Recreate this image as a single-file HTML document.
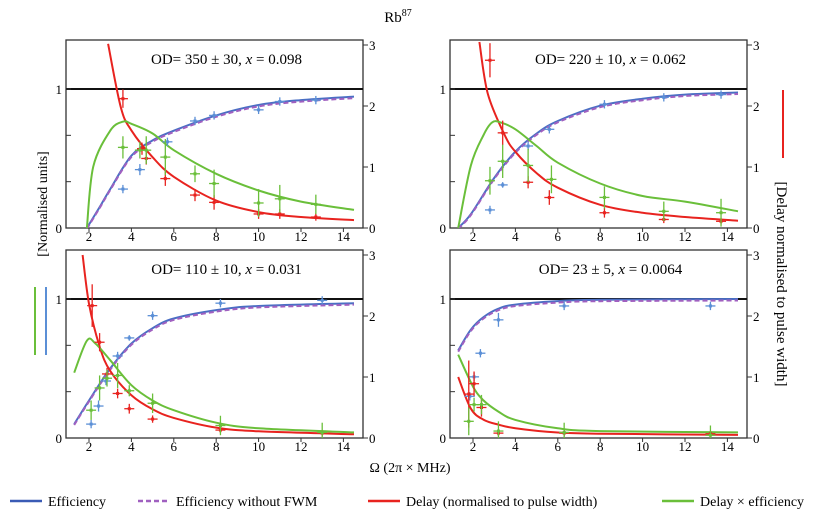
<!DOCTYPE html>
<html><head><meta charset="utf-8"><style>
body{margin:0;background:#fff;}
svg{display:block;font-family:"Liberation Serif",serif;}
</style></head><body>
<svg id="chart" width="831" height="531" viewBox="0 0 831 531" xmlns="http://www.w3.org/2000/svg">
<text x="398" y="22" font-size="15" text-anchor="middle">Rb<tspan dy="-6" font-size="10">87</tspan></text>
<text transform="translate(47,204) rotate(-90)" font-size="14" text-anchor="middle">[Normalised units]</text>
<line x1="35" y1="287" x2="35" y2="355" stroke="#6abf3a" stroke-width="2"/>
<line x1="46" y1="287" x2="46" y2="355" stroke="#5b8fd6" stroke-width="2"/>
<text transform="translate(777,284) rotate(90)" font-size="15" text-anchor="middle">[Delay normalised to pulse width]</text>
<line x1="783" y1="90" x2="783" y2="158" stroke="#e8231f" stroke-width="2"/>
<text x="410" y="472" font-size="14" text-anchor="middle">Ω (2π × MHz)</text>
<g font-size="14">
<g><line x1="10" y1="501" x2="42" y2="501" stroke="#3a5bb5" stroke-width="2.5"/><text x="48" y="506">Efficiency</text></g>
<g><line x1="138" y1="501" x2="170" y2="501" stroke="#a060c0" stroke-width="2.5" stroke-dasharray="5,3"/><text x="176" y="506">Efficiency without FWM</text></g>
<g><line x1="368" y1="501" x2="400" y2="501" stroke="#e8231f" stroke-width="2.5"/><text x="406" y="506">Delay (normalised to pulse width)</text></g>
<g><line x1="662" y1="501" x2="694" y2="501" stroke="#6abf3a" stroke-width="2.5"/><text x="700" y="506">Delay × efficiency</text></g>
</g>
</svg>
<script>
// Panel annotations
const panelLabels = ["OD= 350 ± 30, ", "OD= 220 ± 10, ", "OD= 110 ± 10, ", "OD= 23 ± 5, "];
const panelX = ["0.098", "0.062", "0.031", "0.0064"];
// Curves: x samples and values (left axis for eff & green, right axis for delay)
const effX = [[1.9,2.5,3,4,5,6,8,10,12,14.5],[1.3,1.9,3,4,5,6,8,10,12,14.5],[1.3,2,3,4,5,6,8,10,14.5],[1.3,1.9,2.5,3.2,4,6,8,14.5]];
const effY = [[0,0.15,0.28,0.52,0.63,0.70,0.81,0.885,0.92,0.945],[0,0.1,0.36,0.55,0.68,0.77,0.88,0.93,0.96,0.975],[0.1,0.27,0.5,0.68,0.79,0.86,0.92,0.95,0.97],[0.63,0.78,0.87,0.93,0.96,0.985,0.995,1.0]];
const delayX = [[2.9,3.5,4,5,6,8,10,12,14.5],[2.3,2.7,3.5,4,5,6,8,10,12,14.5],[1.7,2,2.5,3,4,5,6,8,10,14.5],[1.3,1.9,2.5,3.2,4,6,8,14.5]];
const delayY = [[3.02,1.98,1.6,1.16,0.84,0.45,0.26,0.18,0.13],[3.05,2.2,1.52,1.25,0.9,0.66,0.38,0.25,0.18,0.12],[3.0,2.2,1.5,1.1,0.7,0.47,0.33,0.17,0.11,0.06],[1.0,0.48,0.3,0.22,0.16,0.09,0.07,0.05]];
const prodX = [[1.9,2.2,3,3.6,4,5,6,8,10,12,14.5],[1.3,1.9,2.5,2.9,3.3,4,5,6,8,10,12,14.5],[1.3,1.9,2.3,3,4,5,6,8,10,14.5],[1.3,2,2.5,3.2,4,6,8,14.5]];
const prodY = [[0,0.44,0.70,0.765,0.75,0.68,0.56,0.39,0.27,0.19,0.13],[0,0.45,0.67,0.76,0.76,0.71,0.59,0.47,0.32,0.23,0.19,0.12],[0.47,0.7,0.68,0.56,0.38,0.27,0.2,0.11,0.07,0.04],[0.6,0.37,0.27,0.19,0.13,0.07,0.05,0.04]];
// Measured points: x, value, y-error
const effPtX = [[3.6,4.4,5.7,7.0,7.9,10,11,12.7],[2.8,3.4,4.6,5.6,8.2,11,13.7],[2.1,2.45,2.8,3.35,3.9,5.0,8.2,13],[1.85,2.05,2.35,3.2,6.3,13.2]];
const effPtY = [[0.28,0.42,0.62,0.77,0.81,0.85,0.91,0.92],[0.13,0.31,0.59,0.71,0.89,0.94,0.96],[0.1,0.23,0.41,0.59,0.72,0.88,0.97,0.99],[0.3,0.44,0.61,0.85,0.95,0.95]];
const effPtE = [[0.03,0.04,0.03,0.03,0.03,0.03,0.03,0.03],[0.03,0.02,0.03,0.03,0.03,0.03,0.03],[0.03,0.04,0.03,0.03,0.02,0.03,0.03,0.03],[0.03,0.03,0.03,0.05,0.03,0.03]];
const delPtX = [[3.6,4.5,4.7,5.6,7.0,7.9,10,11,12.7],[2.8,3.4,4.6,5.6,8.2,11,13.7],[2.15,2.5,2.85,3.35,3.9,5.0,8.2,13],[1.8,2.05,2.4,3.2,6.3,13.2]];
const delPtY = [[2.12,1.3,1.14,0.81,0.54,0.42,0.23,0.23,0.18],[2.75,1.56,0.75,0.5,0.25,0.14,0.11],[2.17,1.57,1.05,0.73,0.48,0.31,0.13,0.08],[0.72,0.89,0.5,0.08,0.08,0.07]];
const delPtE = [[0.15,0.1,0.1,0.12,0.1,0.12,0.08,0.08,0.06],[0.28,0.2,0.1,0.12,0.08,0.06,0.05],[0.35,0.15,0.1,0.08,0.08,0.06,0.05,0.05],[0.55,0.2,0.15,0.05,0.05,0.04]];
const prodPtX = [[3.6,4.4,4.7,5.6,7.0,7.9,10,11,12.7],[2.8,3.4,4.6,5.7,8.2,11,13.7],[2.1,2.5,2.85,3.35,3.9,5.0,8.2,13],[1.8,2.05,2.4,3.2,6.3,13.2]];
const prodPtY = [[0.58,0.56,0.56,0.51,0.39,0.32,0.18,0.21,0.17],[0.34,0.48,0.45,0.35,0.22,0.12,0.11],[0.2,0.36,0.43,0.45,0.34,0.25,0.09,0.04],[0.12,0.24,0.24,0.05,0.04,0.02]];
const prodPtE = [[0.08,0.06,0.1,0.13,0.06,0.1,0.1,0.1,0.07],[0.1,0.12,0.12,0.1,0.08,0.07,0.1],[0.07,0.09,0.06,0.09,0.04,0.07,0.07,0.07],[0.1,0.05,0.07,0.07,0.07,0.07]];
const xTicks = [2,4,6,8,10,12,14];
const rTicks = [0,1,2,3];

const NS = "http://www.w3.org/2000/svg";
const svg = document.getElementById('chart');
function mk(tag, attrs, parent){
  const e = document.createElementNS(NS, tag);
  for (const k in attrs) e.setAttribute(k, attrs[k]);
  (parent||svg).appendChild(e);
  return e;
}
function smooth(pts){
  let d = "M"+pts[0][0].toFixed(1)+","+pts[0][1].toFixed(1);
  for (let i=0;i<pts.length-1;i++){
    const p0=pts[Math.max(0,i-1)], p1=pts[i], p2=pts[i+1], p3=pts[Math.min(pts.length-1,i+2)];
    const c1x=p1[0]+(p2[0]-p0[0])/6, c1y=p1[1]+(p2[1]-p0[1])/6;
    const c2x=p2[0]-(p3[0]-p1[0])/6, c2y=p2[1]-(p3[1]-p1[1])/6;
    d+=" C"+c1x.toFixed(1)+","+c1y.toFixed(1)+" "+c2x.toFixed(1)+","+c2y.toFixed(1)+" "+p2[0].toFixed(1)+","+p2[1].toFixed(1);
  }
  return d;
}
const lefts=[66,450,66,450], tops=[40,40,250,250];
const W=297, H=188;
for (let p=0;p<4;p++){
  const L=lefts[p], T=tops[p], B=T+H;
  const xs = v => L+23+(v-2)*21.2;
  const yl = v => B - v*139;
  const yr = v => B - v*61;
  const g = mk('g', {});
  
  
  const clipId='clip'+p;
  const cp = mk('clipPath',{id:clipId},g); mk('rect',{x:L,y:T,width:W,height:H},cp);
  const frame = mk('rect',{x:L,y:T,width:W,height:H,fill:'none',stroke:'#333','stroke-width':1.3},g);
  
  
  const one = mk('line',{x1:L,x2:L+W,y1:yl(1),y2:yl(1),stroke:'#111','stroke-width':2},g);
  
  
  [0,1/3,2/3,1].forEach(v=>{ mk('line',{x1:L,x2:L+5,y1:yl(v),y2:yl(v),stroke:'#333'},g); });
  [[0,'0'],[1,'1']].forEach(a=>{
    const t=mk('text',{x:L-4,y:yl(a[0])+5,'font-size':13,'text-anchor':'end'},g); t.textContent=a[1];
    
    
  });
  rTicks.forEach(v=>{
    mk('line',{x1:L+W,x2:L+W+5,y1:yr(v),y2:yr(v),stroke:'#333'},g);
    const t=mk('text',{x:L+W+6,y:yr(v)+5,'font-size':13},g); t.textContent=v;
    
    
  });
  xTicks.forEach(v=>{
    mk('line',{x1:xs(v),x2:xs(v),y1:B,y2:B+4,stroke:'#333'},g);
    const t=mk('text',{x:xs(v),y:B+13,'font-size':13,'text-anchor':'middle'},g); t.textContent=v;
    
    
  });
  const lab = mk('text',{x:L+W/2+12,y:T+24,'font-size':15,'text-anchor':'middle'},g);
  lab.textContent = panelLabels[p];
  const it = mk('tspan',{'font-style':'italic'},lab); it.textContent='x';
  const rest = mk('tspan',{},lab); rest.textContent=' = '+panelX[p];
  
  
  const cg = mk('g',{'clip-path':'url(#'+clipId+')'},g);
  const cE = mk('path',{d:smooth(effX[p].map((x,i)=>[xs(x),yl(effY[p][i])])),fill:'none',stroke:'#4a6fc4','stroke-width':2},cg);
  
  
  const cF = mk('path',{d:smooth(effX[p].map((x,i)=>[xs(x),yl(effY[p][i]*0.995)+0.8])),fill:'none',stroke:'#a060c0','stroke-width':2,'stroke-dasharray':'5,3'},cg);
  
  
  const cD = mk('path',{d:smooth(delayX[p].map((x,i)=>[xs(x),yr(delayY[p][i])])),fill:'none',stroke:'#e8231f','stroke-width':2},cg);
  
  
  const cP = mk('path',{d:smooth(prodX[p].map((x,i)=>[xs(x),yl(prodY[p][i])])),fill:'none',stroke:'#6abf3a','stroke-width':2},cg);
  
  
  const pts = [[effPtX,effPtY,effPtE,yl,'#5b8fd6','efficiency-point'],[delPtX,delPtY,delPtE,yr,'#e8231f','delay-point'],[prodPtX,prodPtY,prodPtE,yl,'#6abf3a','delay-efficiency-point']];
  pts.forEach(s=>{
    s[0][p].forEach((x,i)=>{
      const cx=xs(x), cy=s[3](s[1][p][i]), ey=Math.abs(s[3](s[2][p][i])-B);
      const pg = mk('g',{stroke:s[4],'stroke-width':1.3},cg);
      
      
      mk('line',{x1:cx-5,x2:cx+5,y1:cy,y2:cy},pg);
      mk('line',{x1:cx,x2:cx,y1:cy-ey,y2:cy+ey},pg);
      mk('rect',{x:cx-1.5,y:cy-1.5,width:3,height:3,fill:s[4],stroke:'none'},pg);
    });
  });
}
</script>
</body></html>
